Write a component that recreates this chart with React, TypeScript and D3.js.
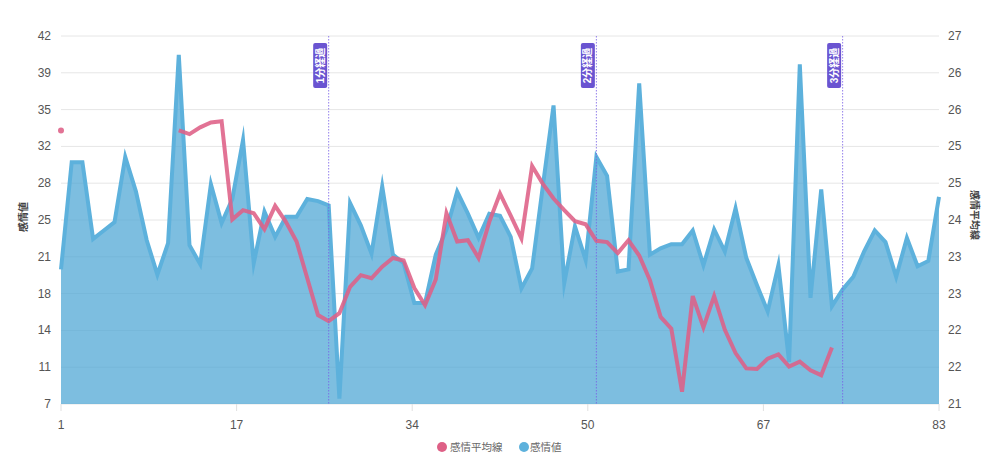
import React from "react";
import * as d3 from "d3";

// 感情値 (left axis), index 1..83
const emotionValues: number[] = [
  19.8, 30.0, 30.0, 22.7, 23.5, 24.3, 30.5, 27.2, 22.6, 19.3,
  22.3, 40.2, 22.1, 20.3, 27.9, 24.2, 26.5, 32.1, 20.4, 25.3,
  22.9, 24.8, 24.8, 26.5, 26.3, 25.9, 7.5, 26.1, 24.0, 21.3,
  27.7, 21.2, 20.4, 16.6, 16.6, 21.2, 23.6, 27.2, 25.1, 22.8,
  25.1, 24.9, 22.9, 18.0, 19.9, 27.7, 35.4, 18.5, 23.9, 20.7,
  30.5, 28.7, 19.6, 19.8, 37.5, 21.2, 21.8, 22.2, 22.2, 23.5,
  20.2, 23.6, 21.5, 25.6, 20.9, 18.3, 15.8, 20.2, 11.0, 39.3,
  17.1, 27.4, 16.3, 17.9, 19.1, 21.5, 23.5, 22.4, 19.1, 22.8,
  20.1, 20.6, 26.7,
];

// 感情平均線 (right axis), index 1..83, null = no value
const averageValues: (number | null)[] = [
  25.46, null, null, null, null, null, null, null, null, null,
  null, 25.46, 25.40, 25.51, 25.59, 25.61, 24.01, 24.16, 24.11, 23.85,
  24.23, 23.97, 23.65, 23.05, 22.45, 22.35, 22.48, 22.91, 23.10, 23.05,
  23.24, 23.38, 23.34, 22.89, 22.61, 23.03, 24.11, 23.65, 23.67, 23.38,
  23.97, 24.43, 24.07, 23.70, 24.88, 24.59, 24.35, 24.16, 23.98, 23.93,
  23.66, 23.64, 23.46, 23.67, 23.42, 23.02, 22.42, 22.23, 21.20, 22.76,
  22.25, 22.76, 22.21, 21.83, 21.58, 21.57, 21.74, 21.81, 21.61, 21.69,
  21.55, 21.47, 21.92, null, null, null, null, null, null, null,
  null, null, null,
];

const leftTicks: number[] = [7, 10.5, 14, 17.5, 21, 24.5, 28, 31.5, 35, 38.5, 42];
const rightTicks: number[] = [21, 21.6, 22.2, 22.8, 23.4, 24, 24.6, 25.2, 25.8, 26.4, 27];
const xTicks: number[] = [1, 17.4, 33.8, 50.2, 66.6, 83];

const markers: { index: number; label: string }[] = [
  { index: 26, label: "1分経過" },
  { index: 51, label: "2分経過" },
  { index: 74, label: "3分経過" },
];

const seriesNames = ["感情平均線", "感情値"];

const W = 1000;
const H = 458;
const FONT = "'Liberation Sans', Arial, Helvetica, 'Noto Sans CJK JP', sans-serif";

export default function App() {
  const x = d3.scaleLinear().domain([1, 83]).range([61, 939]);
  const yL = d3.scaleLinear().domain([7, 42]).range([404, 36]);
  const yR = d3.scaleLinear().domain([21, 27]).range([404, 36]);

  const pts = emotionValues.map((v, i) => ({ i: i + 1, v }));
  const area = d3
    .area<{ i: number; v: number }>()
    .x((d) => x(d.i))
    .y0(yL(7))
    .y1((d) => yL(d.v));
  const line = d3
    .line<{ i: number; v: number }>()
    .x((d) => x(d.i))
    .y((d) => yL(d.v));

  const avgPts = averageValues.map((v, i) => ({ i: i + 1, v }));
  const avgLine = d3
    .line<{ i: number; v: number | null }>()
    .defined((d) => d.v !== null)
    .x((d) => x(d.i))
    .y((d) => yR(d.v as number));
  const isolated = avgPts.filter(
    (d, k) =>
      d.v !== null &&
      (k === 0 || avgPts[k - 1].v === null) &&
      (k === avgPts.length - 1 || avgPts[k + 1].v === null)
  );

  const red = "rgba(222,96,134,0.88)";
  const blueFill = "rgba(75,165,212,0.72)";
  const blueStroke = "rgb(93,177,220)";
  const purple = "rgb(106,84,209)";

  return (
    <svg
      width={W}
      height={H}
      style={{ position: "absolute", left: 0, top: 0, background: "#fff" }}
      fontFamily={FONT}
    >
      {/* grid */}
      {leftTicks.map((t, k) => (
        <line
          key={"g" + k}
          x1={61}
          x2={939}
          y1={yL(t)}
          y2={yL(t)}
          stroke="#e6e6e6"
          strokeWidth={1}
        />
      ))}
      {/* x tick marks */}
      {xTicks.map((t, k) => (
        <line
          key={"xt" + k}
          x1={x(t)}
          x2={x(t)}
          y1={404}
          y2={411}
          stroke="#e0e0e0"
          strokeWidth={1}
        />
      ))}
      {/* area */}
      <path d={area(pts) || ""} fill={blueFill} stroke="none" />
      <path
        d={line(pts) || ""}
        fill="none"
        stroke={blueStroke}
        strokeWidth={4}
        strokeLinejoin="miter"
        strokeMiterlimit={10}
      />
      {/* average line */}
      <path
        d={avgLine(avgPts) || ""}
        fill="none"
        stroke={red}
        strokeWidth={4}
        strokeLinejoin="miter"
      />
      {isolated.map((d, k) => (
        <circle key={"iso" + k} cx={x(d.i)} cy={yR(d.v as number)} r={3} fill={red} />
      ))}
      {/* markers */}
      {markers.map((m, k) => {
        const mx = x(m.index);
        return (
          <g key={"m" + k}>
            <line
              x1={mx}
              x2={mx}
              y1={36}
              y2={404}
              stroke="rgba(120,95,230,0.8)"
              strokeWidth={1}
              strokeDasharray="1.5,1.5"
            />
            <rect x={mx - 15.5} y={43} width={14} height={45} rx={2} fill={purple} />
            <text
              transform={`translate(${mx - 8.5},${65.5}) rotate(-90)`}
              textAnchor="middle"
              dominantBaseline="central"
              fontSize={10}
              fontWeight={600}
              fill="#fff"
            >
              {m.label}
            </text>
          </g>
        );
      })}
      {/* left ticks */}
      {leftTicks.map((t, k) => (
        <text
          key={"lt" + k}
          x={51}
          y={yL(t)}
          textAnchor="end"
          dominantBaseline="central"
          fontSize={12}
          fill="#555"
        >
          {Math.round(t)}
        </text>
      ))}
      {/* right ticks */}
      {rightTicks.map((t, k) => (
        <text
          key={"rt" + k}
          x={948}
          y={yR(t)}
          textAnchor="start"
          dominantBaseline="central"
          fontSize={12}
          fill="#555"
        >
          {Math.round(t)}
        </text>
      ))}
      {/* x ticks */}
      {xTicks.map((t, k) => (
        <text
          key={"xl" + k}
          x={x(t)}
          y={425}
          textAnchor="middle"
          dominantBaseline="central"
          fontSize={12}
          fill="#555"
        >
          {Math.round(t)}
        </text>
      ))}
      {/* axis titles */}
      <text
        transform={`translate(23,217) rotate(-90)`}
        textAnchor="middle"
        dominantBaseline="central"
        fontSize={10}
        fontWeight="bold"
        fill="#444"
      >
        {seriesNames[1]}
      </text>
      <text
        transform={`translate(974,215) rotate(90)`}
        textAnchor="middle"
        dominantBaseline="central"
        fontSize={10}
        fontWeight="bold"
        fill="#444"
      >
        {seriesNames[0]}
      </text>
      {/* legend */}
      <circle cx={442} cy={447} r={5} fill="rgb(222,96,134)" />
      <text x={450} y={447} dominantBaseline="central" fontSize={10.5} fill="#666">
        {seriesNames[0]}
      </text>
      <circle cx={524} cy={447} r={5} fill="rgb(93,177,220)" />
      <text x={530} y={447} dominantBaseline="central" fontSize={10.5} fill="#666">
        {seriesNames[1]}
      </text>
    </svg>
  );
}
